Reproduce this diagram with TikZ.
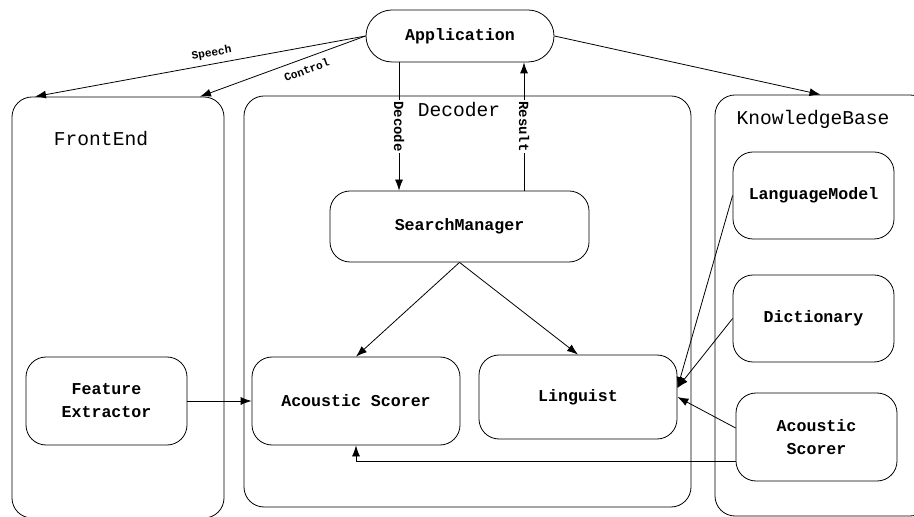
\documentclass[tikz,border=0pt]{standalone}
\usepackage{fontspec}
\setmonofont{Liberation Mono}
\usetikzlibrary{arrows.meta, positioning, calc}

\tikzset{
  box/.style={draw, rounded corners=10pt, align=center, inner sep=0pt,
    font=\ttfamily\bfseries\fontsize{8.3}{11.5}\selectfont},
  group/.style={draw, rounded corners=10pt, inner sep=0pt},
  title/.style={font=\ttfamily\fontsize{9.8}{11}\selectfont},
  tag/.style={font=\ttfamily\bfseries\fontsize{5.6}{6}\selectfont, inner sep=1pt},
  vtag/.style={font=\ttfamily\bfseries\fontsize{7}{8}\selectfont, rotate=-90, fill=white, inner sep=0.5pt},
}

\begin{document}
\begin{tikzpicture}[x=0.5pt, y=-0.5pt, line width=0.4pt, >={Latex[length=5.5pt,width=4pt]}]
\useasboundingbox (0,0) rectangle (914,517);
\clip (0,0) rectangle (914,517);

% containers
\node[group, minimum width=106pt, minimum height=210.5pt] (fe) at (118,307.5) {};
\node[group, minimum width=223.5pt, minimum height=205.5pt] (dec) at (467.5,301.5) {};
\node[group, minimum width=107.5pt, minimum height=210.5pt] (kb) at (822.5,305.5) {};
\node[title] (fetitle) at (101,139) {FrontEnd};
\node[title] (dectitle) at (459,110) {Decoder};
\node[title] (kbtitle) at (813,119) {KnowledgeBase};

% boxes
\node[box, rounded corners=13pt, minimum width=94pt, minimum height=26pt] (app) at (460,36) {Application};
\node[box, minimum width=129.5pt, minimum height=35.5pt] (sm) at (459.5,226.5) {SearchManager};
\node[box, minimum width=104pt, minimum height=44pt] (as) at (356,401) {Acoustic Scorer};
\node[box, minimum width=99pt, minimum height=42pt] (ling) at (578,397) {Linguist};
\node[box, minimum width=80.5pt, minimum height=44pt] (fx) at (106.5,401) {Feature\\Extractor};
\node[box, minimum width=80.5pt, minimum height=43.5pt] (lm) at (813.5,195.5) {LanguageModel};
\node[box, minimum width=80.5pt, minimum height=43.5pt] (dict) at (813.5,318.5) {Dictionary};
\node[box, minimum width=80.5pt, minimum height=44pt] (kbas) at (816.5,437) {Acoustic\\Scorer};

% application links
\draw[->] (app.west) -- node[tag, sloped, above=1.5pt, pos=0.46] {Speech} ([xshift=-41.5pt]fe.north);
\draw[->] (app.west) -- node[tag, sloped, below=2.5pt, pos=0.38] {Control} ([xshift=41pt]fe.north);
\draw[->] (app.east) -- ([xshift=-1pt]kb.north);
\draw[->] ([xshift=-30.5pt]app.south) -- node[vtag] {Decode} ([xshift=-30.5pt]app.south |- sm.north);
\draw[->] ([xshift=32pt]app.south |- sm.north) -- node[vtag] {Result} ([xshift=32pt]app.south);

% decoder links
\draw[->] (sm.south) -- (as.north);
\draw[->] (sm.south) -- (ling.north);
\draw[->] (fx.east) -- (as.west);
\draw[->] (lm.west) -- ([yshift=4.5pt]ling.east);
\draw[->] (dict.west) -- ([yshift=4.5pt]ling.east);
\draw[->] ([yshift=4.5pt]kbas.west) -- (ling.east);
\draw[->] ([yshift=-12pt]kbas.west) -| (as.south);
\end{tikzpicture}
\end{document}
